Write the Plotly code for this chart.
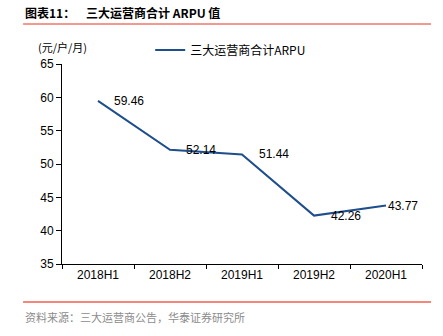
import plotly.graph_objects as go

periods = ["2018H1", "2018H2", "2019H1", "2019H2", "2020H1"]
arpu = [59.46, 52.14, 51.44, 42.26, 43.77]
label_shift = [14, 14, 15, 15, 0]
y_ticks = [35, 40, 45, 50, 55, 60, 65]

CJK = "Noto Sans CJK SC"
LATIN = "Liberation Sans, Arial, sans-serif"
LINE_BLUE = "#1F4E8C"

fig = go.Figure()
fig.add_trace(go.Scatter(
    x=periods, y=arpu, mode="lines",
    line=dict(color=LINE_BLUE, width=2),
    name="三大运营商合计ARPU",
    hoverinfo="x+y",
))

# value labels beside each point
for p, v, s in zip(periods, arpu, label_shift):
    fig.add_annotation(
        x=p, y=v, text=f"{v:.2f}", showarrow=False,
        xanchor="left", yanchor="middle", xshift=s,
        font=dict(family=LATIN, size=12, color="#000000"),
    )

fig.update_layout(
    width=443, height=336,
    margin=dict(l=62, r=21, t=64, b=72),
    paper_bgcolor="white", plot_bgcolor="white",
    showlegend=True,
    legend=dict(
        x=0.245, y=1.07, xanchor="left", yanchor="middle",
        bgcolor="rgba(0,0,0,0)",
        font=dict(family=CJK, size=12, color="#000000"),
        itemwidth=30,
    ),
    xaxis=dict(
        type="category", showline=True, linecolor="#000000", linewidth=1,
        ticks="outside", ticklen=4, tickcolor="#000000",
        tickson="boundaries", showgrid=False, zeroline=False,
        tickfont=dict(family=LATIN, size=12, color="#000000"),
        range=[-0.5, 4.5],
    ),
    yaxis=dict(
        range=[35, 65], tickvals=y_ticks, showline=True,
        linecolor="#000000", linewidth=1, ticks="outside", ticklen=5,
        tickcolor="#000000", showgrid=False, zeroline=False,
        tickfont=dict(family=LATIN, size=12, color="#000000"),
    ),
)

# heading and rules
fig.add_annotation(
    xref="paper", yref="paper", x=-0.108, y=1.26,
    xanchor="left", yanchor="middle", showarrow=False,
    text="<b>图表11：    三大运营商合计 ARPU 值</b>",
    font=dict(family=CJK, size=12, color="#000000"),
)
fig.add_shape(type="line", xref="paper", yref="paper",
              x0=-0.108, x1=1.025, y0=1.2, y1=1.2,
              line=dict(color="#E8321E", width=1))
fig.add_shape(type="line", xref="paper", yref="paper",
              x0=-0.108, x1=1.025, y0=-0.19, y1=-0.19,
              line=dict(color="#F4877A", width=2))

# unit label
fig.add_annotation(
    xref="paper", yref="paper", x=-0.072, y=1.085,
    xanchor="left", yanchor="middle", showarrow=False,
    text="(元/户/月)",
    font=dict(family=CJK, size=11, color="#000000"),
)

# source note
fig.add_annotation(
    xref="paper", yref="paper", x=-0.108, y=-0.265,
    xanchor="left", yanchor="middle", showarrow=False,
    text="资料来源：三大运营商公告，华泰证券研究所",
    font=dict(family=CJK, size=11, color="#8C8C8C"),
)

fig.write_html("out.html")
